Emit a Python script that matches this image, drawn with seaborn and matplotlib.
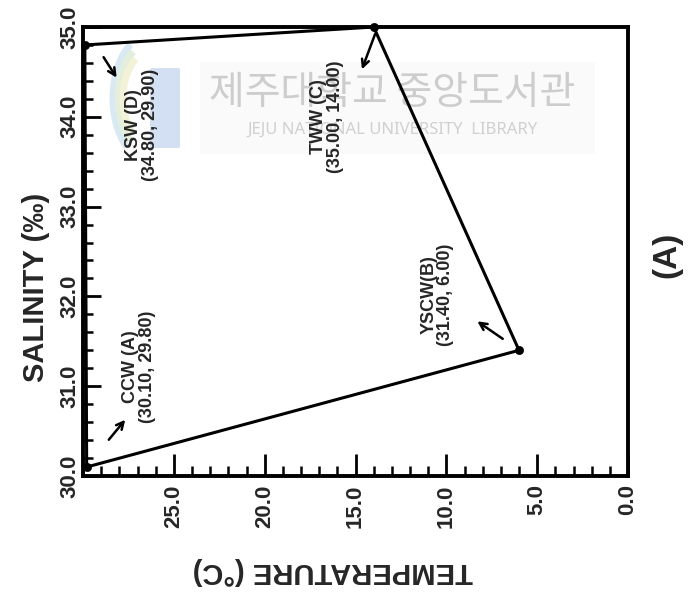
import numpy as np
import pandas as pd
import matplotlib
matplotlib.use("Agg")
import matplotlib.pyplot as plt
from matplotlib.patches import Arc, FancyBboxPatch
import seaborn as sns

# Water-mass end members: salinity (‰) and temperature (°C)
water_masses = ["CCW (A)", "YSCW(B)", "TWW (C)", "KSW (D)"]
salinity = [30.10, 31.40, 35.00, 34.80]
temperature = [29.80, 6.00, 14.00, 29.90]

temp_ticks = [25.0, 20.0, 15.0, 10.0, 5.0, 0.0]
sal_ticks = [30.0, 31.0, 32.0, 33.0, 34.0, 35.0]

sns.set_theme(style="ticks")
plt.rcParams["font.family"] = ["Liberation Sans", "DejaVu Sans"]

fig = plt.figure(figsize=(6.96, 5.95), dpi=100)
ax = fig.add_axes([0.1193, 0.2, 0.783, 0.7546])

# light library watermark behind the plot
wm = fig.add_axes([0, 0, 1, 1], zorder=-1)
wm.set_axis_off()
wm.set_xlim(0, 696)
wm.set_ylim(595, 0)
wm.add_patch(FancyBboxPatch((200, 62), 395, 92, boxstyle="square,pad=0",
                            facecolor="#fafafa", edgecolor="none"))
wm.add_patch(FancyBboxPatch((152, 70), 26, 76, boxstyle="round,pad=2",
                            facecolor="#d3dff2", edgecolor="none"))
for r, c in [(74, "#d9e9f3"), (64, "#e3efdc"), (54, "#f3f1d8")]:
    wm.add_patch(Arc((150, 98), r, r * 1.7, theta1=115, theta2=250,
                     color=c, lw=5))
wm.text(392, 93, "제주대학교 중앙도서관", ha="center", va="center",
        fontsize=28, color="#cdcdcd", family=["Noto Sans CJK KR"])
wm.text(392, 130, "JEJU NATIONAL UNIVERSITY  LIBRARY", ha="center",
        va="center", fontsize=12, color="#d0d0d0",
        family=["Noto Sans", "DejaVu Sans"])
ax.set_facecolor("none")

df = pd.DataFrame({"name": water_masses, "salinity": salinity,
                   "temperature": temperature})
closed = pd.concat([df, df.iloc[[0]]], ignore_index=True)

sns.lineplot(data=closed, x="temperature", y="salinity", sort=False,
             estimator=None, color="black", lw=2.2, ax=ax, legend=False)
sns.scatterplot(data=df, x="temperature", y="salinity", color="black",
                s=35, edgecolor="black", ax=ax, zorder=3, legend=False,
                clip_on=False)

ax.set_xlim(30, 0)
ax.set_ylim(30, 35)
ax.set_xticks(temp_ticks)
ax.set_xticklabels([f"{t:.1f}" for t in temp_ticks], rotation=90,
                   fontsize=16, fontweight="bold")
ax.set_xticks(np.arange(0, 31, 1), minor=True)
ax.set_yticks(sal_ticks)
ax.set_yticklabels([f"{s:.1f}" for s in sal_ticks], rotation=90,
                   va="center", fontsize=16, fontweight="bold")
ax.set_yticks(np.arange(30, 35.01, 0.2), minor=True)
ax.tick_params(axis="both", which="major", direction="in", width=2,
               color="black")
ax.tick_params(axis="x", which="major", length=16, pad=6)
ax.tick_params(axis="y", which="major", length=13, pad=2)
ax.tick_params(axis="both", which="minor", direction="in", length=7,
               width=1.8, color="black")
for sp in ax.spines.values():
    sp.set_linewidth(2.8)
    sp.set_color("black")

ax.set_xlabel("TEMPERATURE (°C)", fontsize=21, fontweight="bold",
              rotation=180)
ax.xaxis.set_label_coords(0.459, -0.18)
ax.set_ylabel("SALINITY (‰)", fontsize=21, fontweight="bold")
ax.yaxis.set_label_coords(-0.06, 0.42)

# labels for each end member, arrows point from the point to the label
labels = [
    (f"CCW (A)\n({salinity[0]:.2f}, {temperature[0]:.2f})", (26.9, 31.22),
     (28.68, 30.38), (27.58, 30.65)),
    (f"YSCW(B)\n({salinity[1]:.2f}, {temperature[1]:.2f})", (10.5, 32.02),
     (6.77, 31.51), (8.42, 31.74)),
    (f"TWW (C)\n({salinity[2]:.2f}, {temperature[2]:.2f})", (16.55, 34.0),
     (13.87, 34.95), (14.70, 34.5)),
    (f"KSW (D)\n({salinity[3]:.2f}, {temperature[3]:.2f})", (26.75, 33.91),
     (28.95, 34.69), (28.07, 34.41)),
]
for text, pos, a0, a1 in labels:
    ax.text(pos[0], pos[1], text, rotation=90, ha="center", va="center",
            multialignment="center", fontsize=13, fontweight="bold",
            linespacing=1.0)
    ax.annotate("", xy=a1, xytext=a0,
                arrowprops=dict(arrowstyle="->", color="black", lw=1.8,
                                mutation_scale=13))

fig.text(667 / 696, 1 - 255 / 595, "(A)", rotation=90, ha="center",
         va="center", fontsize=24, fontweight="bold")

fig.savefig("out.png", dpi=100)
